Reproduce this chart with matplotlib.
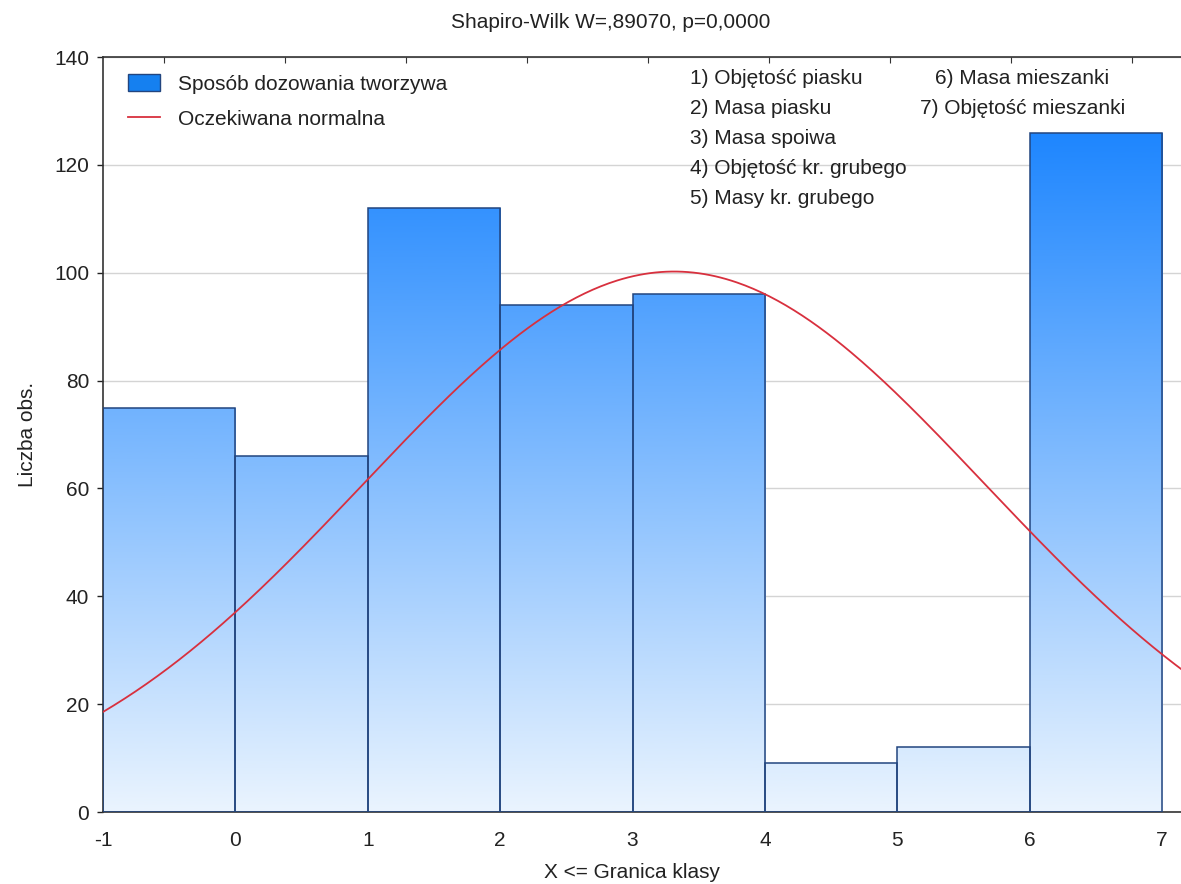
import numpy as np
import matplotlib
matplotlib.use('Agg')
import matplotlib.pyplot as plt
from matplotlib.colors import LinearSegmentedColormap
from matplotlib.patches import Patch
from matplotlib.lines import Line2D

plt.rcParams['font.family'] = ['Liberation Sans', 'DejaVu Sans']
plt.rcParams['axes.unicode_minus'] = False

# liczebności klas: X <= górna granica klasy
class_upper = np.array([0, 1, 2, 3, 4, 5, 6, 7])
counts = np.array([75, 66, 112, 94, 96, 9, 12, 126])

title = 'Shapiro-Wilk W=,89070, p=0,0000'
series_name = 'Sposób dozowania tworzywa'
normal_name = 'Oczekiwana normalna'
methods_left = ['1) Objętość piasku', '2) Masa piasku', '3) Masa spoiwa',
                '4) Objętość kr. grubego', '5) Masy kr. grubego']
methods_right = ['6) Masa mieszanki', '7) Objętość mieszanki']

# oczekiwana normalna z sredniej i odchylenia danych
n = counts.sum()
mean = np.average(class_upper, weights=counts)
sd = np.sqrt(np.sum(counts * (class_upper - mean) ** 2) / (n - 1))
xs = np.linspace(-1, 7.2, 400)
expected = n * 1.0 * np.exp(-0.5 * ((xs - mean) / sd) ** 2) / (sd * np.sqrt(2 * np.pi))

fs = 15
txt = '#222222'

fig = plt.figure(figsize=(11.81, 8.84), dpi=100)
ax = fig.add_axes([103 / 1181, 72 / 884, 1 - 103 / 1181, (812 - 57) / 884])

xmin, xmax = -1, 7.143
ymax = 140

ax.yaxis.grid(True, color='#d4d4d4', linewidth=1)
ax.set_axisbelow(True)

# słupki z gradientem
cmap = LinearSegmentedColormap.from_list('blu', ['#eaf4fe', '#1e86fe'])
grad = np.linspace(0, 1, 256).reshape(-1, 1)
bars = ax.bar(class_upper - 1, counts, width=1, align='edge',
              facecolor='none', edgecolor='#22457f', linewidth=1.1, zorder=3)
for b in bars:
    im = ax.imshow(grad, extent=[xmin, xmax, 0, counts.max()], origin='lower',
                   aspect='auto', cmap=cmap, zorder=2, interpolation='bilinear')
    im.set_clip_path(b)

ax.plot(xs, expected, color='#d8303e', linewidth=1.3, zorder=4)

ax.set_xlim(xmin, xmax)
ax.set_ylim(0, ymax)
ax.set_xticks(np.arange(-1, 8))
ax.set_yticks(np.arange(0, 141, 20))
ax.tick_params(axis='x', length=0, pad=14, labelsize=fs, colors=txt)
ax.tick_params(axis='y', length=4, width=1, pad=6, labelsize=fs, colors=txt)
ax.spines['right'].set_visible(False)
for s in ['left', 'bottom', 'top']:
    ax.spines[s].set_color('#333333')
    ax.spines[s].set_linewidth(1.2)

# ticki górnej osi
top = ax.twiny()
top.set_xlim(0, 1)
top.set_xticks(np.arange(60.5, 1078, 121) / 1078)
top.tick_params(axis='x', direction='in', length=4, labeltop=False, colors='#333333')
for s in top.spines.values():
    s.set_visible(False)

ax.set_ylabel('Liczba obs.', fontsize=fs, color=txt, labelpad=12)
fig.text(632 / 1181, 1 - 873 / 884, 'X <= Granica klasy', ha='center', va='center',
         fontsize=fs, color=txt)
fig.text(611 / 1181, 1 - 22 / 884, title, ha='center', va='center', fontsize=fs, color=txt)

handles = [Patch(facecolor='#1580f0', edgecolor='#22457f', linewidth=1),
           Line2D([0], [0], color='#d8303e', linewidth=1.3)]
ax.legend(handles, [series_name, normal_name], loc='upper left',
          bbox_to_anchor=(25 / 1078, 1 - 17 / 755), frameon=False, fontsize=fs,
          labelcolor=txt, borderpad=0, borderaxespad=0,
          handlelength=1.55, handleheight=0.9, handletextpad=0.85, labelspacing=0.75)

for i, t in enumerate(methods_left):
    fig.text(690 / 1181, 1 - (78 + 30 * i) / 884, t, ha='left', va='center',
             fontsize=fs, color=txt)
fig.text(935 / 1181, 1 - 78 / 884, methods_right[0], ha='left', va='center',
         fontsize=fs, color=txt)
fig.text(920 / 1181, 1 - 108 / 884, methods_right[1], ha='left', va='center',
         fontsize=fs, color=txt)

fig.savefig('out.png', dpi=100)
